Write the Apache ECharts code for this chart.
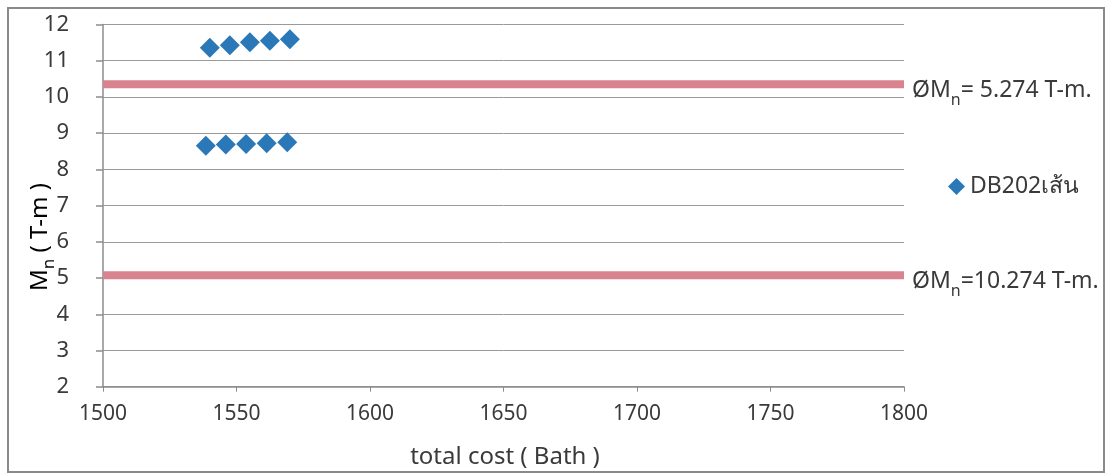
<!DOCTYPE html>
<html><head><meta charset="utf-8">
<script src="https://cdn.jsdelivr.net/npm/echarts@6/dist/echarts.min.js"></script>
<style>html,body{margin:0;padding:0;background:#fff}#c{width:1114px;height:475px}</style>
</head><body><div id="c"></div>
<script>
const seriesName = 'DB202เส้น';
const costX = [1540, 1547.5, 1555, 1562.5, 1570, 1538.5, 1546, 1553.6, 1561.3, 1569];
const mnY = [11.36, 11.43, 11.51, 11.55, 11.59, 8.65, 8.69, 8.70, 8.72, 8.75];
const limitLines = [
  {label: '= 5.274 T-m.', value: 10.35},
  {label: '=10.274 T-m.', value: 5.08}
];
const xRange = [1500, 1800];
const yRange = [2, 12];

const FONT = '"Noto Sans", "DejaVu Sans", sans-serif';
const TXT = '#3a3a3a';
const chart = echarts.init(document.getElementById('c'));
const series = [{
  name: seriesName, type: 'scatter', symbol: 'diamond', symbolSize: 20,
  itemStyle: {color: '#2b78b8', opacity: 1},
  data: costX.map((x, i) => [x, mnY[i]]), z: 5
}];
limitLines.forEach(l => series.push({
  type: 'line', symbol: 'none', silent: true,
  lineStyle: {color: '#d9838e', width: 8},
  data: [[xRange[0], l.value], [xRange[1], l.value]],
  endLabel: {show: true, distance: 8, padding: [8, 0, 0, 0], formatter: '{a|ØM}{s|n}{a|' + l.label + '}',
    rich: {a: {fontSize: 23, fontFamily: FONT, color: TXT, lineHeight: 28, verticalAlign: 'bottom'},
           s: {fontSize: 16, fontFamily: FONT, color: TXT, verticalAlign: 'bottom', padding: [0,0,-6,0]}}},
  z: 3
}));
chart.setOption({
  animation: false,
  backgroundColor: '#fff',
  grid: {left: 103, right: 210, top: 24.5, bottom: 88.3},
  xAxis: {type: 'value', min: xRange[0], max: xRange[1], interval: 50,
    axisLine: {show: true, lineStyle: {color: '#8c8c8c', width: 1.5}},
    axisTick: {show: true, length: 5, lineStyle: {color: '#8c8c8c'}},
    splitLine: {show: false},
    axisLabel: {fontSize: 21, fontFamily: FONT, color: TXT, margin: 17, formatter: v => String(v)}},
  yAxis: {type: 'value', min: yRange[0], max: yRange[1], interval: 1,
    axisLine: {show: true, lineStyle: {color: '#8c8c8c', width: 1.5}},
    axisTick: {show: true, length: 7, lineStyle: {color: '#8c8c8c', width: 1.5}},
    splitLine: {show: true, lineStyle: {color: '#9a9a9a', width: 1}},
    axisLabel: {fontSize: 22, fontFamily: FONT, color: TXT, margin: 34}},
  legend: {data: [seriesName], left: 943, top: 170, icon: 'diamond', itemWidth: 17, itemHeight: 17, itemGap: 6,
    textStyle: {fontSize: 23, fontFamily: FONT, color: TXT}},
  graphic: [
    {type: 'rect', shape: {x: 8, y: 8, width: 1096, height: 464}, style: {fill: 'none', stroke: '#8a8a8a', lineWidth: 2}, silent: true},
    {type: 'text', x: 505, y: 457, style: {text: 'total cost ( Bath )', font: '24px ' + FONT, fill: TXT, textAlign: 'center', textVerticalAlign: 'middle'}},
    {type: 'text', x: 37, y: 237, rotation: Math.PI / 2,
      style: {text: '{a|M}{s|n}{a| ( T-m )}', textAlign: 'center', textVerticalAlign: 'middle',
        rich: {a: {fontSize: 24, fontFamily: FONT, color: TXT, lineHeight: 30, verticalAlign: 'bottom'},
               s: {fontSize: 17, fontFamily: FONT, color: TXT, verticalAlign: 'bottom', padding: [0,0,-6,0]}}}}
  ],
  series: series
});
</script></body></html>
